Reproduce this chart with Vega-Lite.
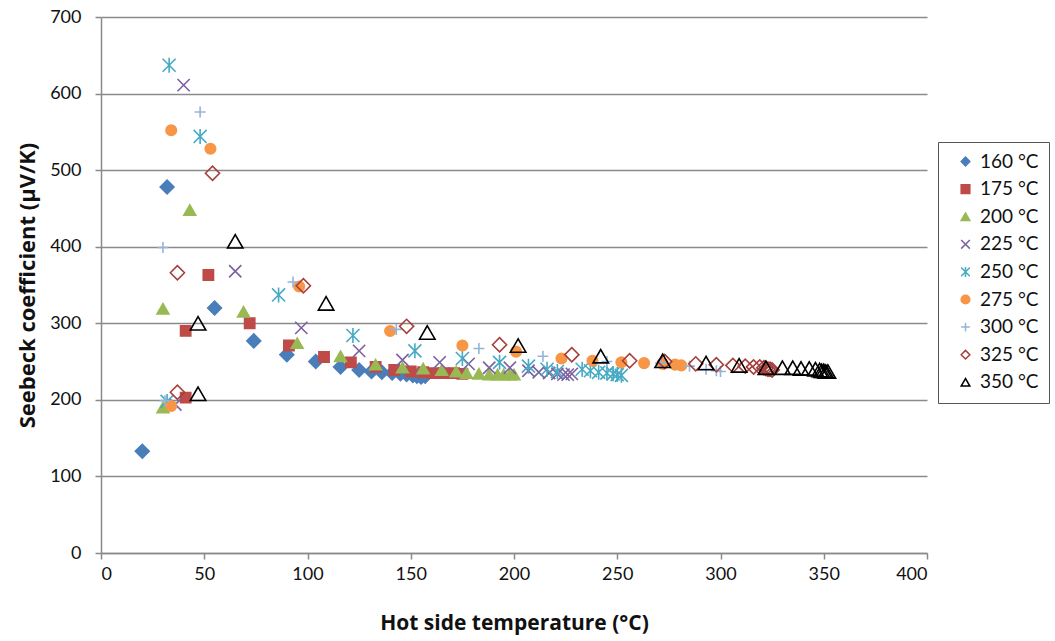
{
  "$schema": "https://vega.github.io/schema/vega-lite/v6.json",
  "autosize": {"type": "none"},
  "padding": {"left": 101, "top": 17, "right": 128, "bottom": 88},
  "width": 826,
  "height": 536,
  "background": "white",
  "config": {
    "view": {"stroke": null},
    "font": "Lato",
    "axis": {
      "labelFont": "Lato", "labelFontSize": 18, "labelColor": "#111",
      "titleFont": "Open Sans", "titleFontSize": 21, "titleFontWeight": "bold", "titleColor": "#111",
      "domainColor": "#8a8a8a", "domainWidth": 1.5,
      "tickColor": "#8a8a8a", "tickWidth": 1.5, "tickSize": 6,
      "gridColor": "#8a8a8a", "gridWidth": 1.5
    }
  },
  "data": {
    "values": [
      {"s": "160 °C", "x": 20, "y": 133}, {"s": "160 °C", "x": 32, "y": 478}, {"s": "160 °C", "x": 55, "y": 320},
      {"s": "160 °C", "x": 74, "y": 277}, {"s": "160 °C", "x": 90, "y": 259}, {"s": "160 °C", "x": 104, "y": 250},
      {"s": "160 °C", "x": 116, "y": 243}, {"s": "160 °C", "x": 125, "y": 239}, {"s": "160 °C", "x": 131, "y": 237},
      {"s": "160 °C", "x": 136, "y": 236}, {"s": "160 °C", "x": 141, "y": 235}, {"s": "160 °C", "x": 145, "y": 234},
      {"s": "160 °C", "x": 148, "y": 233}, {"s": "160 °C", "x": 151, "y": 232}, {"s": "160 °C", "x": 153, "y": 231},
      {"s": "160 °C", "x": 155, "y": 230}, {"s": "160 °C", "x": 157, "y": 231},

      {"s": "175 °C", "x": 41, "y": 203}, {"s": "175 °C", "x": 41, "y": 290}, {"s": "175 °C", "x": 52, "y": 363},
      {"s": "175 °C", "x": 72, "y": 300}, {"s": "175 °C", "x": 91, "y": 271}, {"s": "175 °C", "x": 108, "y": 256},
      {"s": "175 °C", "x": 121, "y": 249}, {"s": "175 °C", "x": 133, "y": 243}, {"s": "175 °C", "x": 142, "y": 239},
      {"s": "175 °C", "x": 150, "y": 237}, {"s": "175 °C", "x": 156, "y": 236}, {"s": "175 °C", "x": 161, "y": 235},
      {"s": "175 °C", "x": 166, "y": 235}, {"s": "175 °C", "x": 171, "y": 235}, {"s": "175 °C", "x": 175, "y": 234},

      {"s": "200 °C", "x": 30, "y": 190}, {"s": "200 °C", "x": 30, "y": 319}, {"s": "200 °C", "x": 43, "y": 448},
      {"s": "200 °C", "x": 69, "y": 315}, {"s": "200 °C", "x": 95, "y": 274}, {"s": "200 °C", "x": 116, "y": 257},
      {"s": "200 °C", "x": 133, "y": 246}, {"s": "200 °C", "x": 146, "y": 242}, {"s": "200 °C", "x": 156, "y": 241},
      {"s": "200 °C", "x": 165, "y": 239}, {"s": "200 °C", "x": 172, "y": 237}, {"s": "200 °C", "x": 177, "y": 235},
      {"s": "200 °C", "x": 183, "y": 234}, {"s": "200 °C", "x": 188, "y": 233}, {"s": "200 °C", "x": 192, "y": 233},
      {"s": "200 °C", "x": 195, "y": 233}, {"s": "200 °C", "x": 198, "y": 233}, {"s": "200 °C", "x": 200, "y": 233},

      {"s": "225 °C", "x": 36, "y": 194}, {"s": "225 °C", "x": 40, "y": 611}, {"s": "225 °C", "x": 65, "y": 368},
      {"s": "225 °C", "x": 97, "y": 294}, {"s": "225 °C", "x": 125, "y": 264}, {"s": "225 °C", "x": 146, "y": 252},
      {"s": "225 °C", "x": 164, "y": 249}, {"s": "225 °C", "x": 178, "y": 247}, {"s": "225 °C", "x": 188, "y": 242},
      {"s": "225 °C", "x": 198, "y": 242}, {"s": "225 °C", "x": 207, "y": 238}, {"s": "225 °C", "x": 212, "y": 236},
      {"s": "225 °C", "x": 217, "y": 235}, {"s": "225 °C", "x": 221, "y": 234}, {"s": "225 °C", "x": 224, "y": 233},
      {"s": "225 °C", "x": 226, "y": 233}, {"s": "225 °C", "x": 228, "y": 234},

      {"s": "250 °C", "x": 32, "y": 198}, {"s": "250 °C", "x": 33, "y": 637}, {"s": "250 °C", "x": 48, "y": 544},
      {"s": "250 °C", "x": 86, "y": 337}, {"s": "250 °C", "x": 122, "y": 284}, {"s": "250 °C", "x": 152, "y": 264},
      {"s": "250 °C", "x": 175, "y": 254}, {"s": "250 °C", "x": 193, "y": 249}, {"s": "250 °C", "x": 207, "y": 244},
      {"s": "250 °C", "x": 216, "y": 240}, {"s": "250 °C", "x": 221, "y": 237}, {"s": "250 °C", "x": 233, "y": 240},
      {"s": "250 °C", "x": 237, "y": 238}, {"s": "250 °C", "x": 241, "y": 236}, {"s": "250 °C", "x": 245, "y": 235},
      {"s": "250 °C", "x": 248, "y": 234}, {"s": "250 °C", "x": 250, "y": 233}, {"s": "250 °C", "x": 252, "y": 232},

      {"s": "275 °C", "x": 34, "y": 192}, {"s": "275 °C", "x": 34, "y": 552}, {"s": "275 °C", "x": 53, "y": 528},
      {"s": "275 °C", "x": 96, "y": 348}, {"s": "275 °C", "x": 140, "y": 290}, {"s": "275 °C", "x": 175, "y": 271},
      {"s": "275 °C", "x": 201, "y": 263}, {"s": "275 °C", "x": 223, "y": 254}, {"s": "275 °C", "x": 238, "y": 251},
      {"s": "275 °C", "x": 252, "y": 249}, {"s": "275 °C", "x": 263, "y": 248}, {"s": "275 °C", "x": 272, "y": 247},
      {"s": "275 °C", "x": 278, "y": 246}, {"s": "275 °C", "x": 281, "y": 245},

      {"s": "300 °C", "x": 31, "y": 199}, {"s": "300 °C", "x": 30, "y": 399}, {"s": "300 °C", "x": 48, "y": 576},
      {"s": "300 °C", "x": 93, "y": 354}, {"s": "300 °C", "x": 143, "y": 292}, {"s": "300 °C", "x": 183, "y": 267},
      {"s": "300 °C", "x": 214, "y": 257}, {"s": "300 °C", "x": 245, "y": 250}, {"s": "300 °C", "x": 271, "y": 248},
      {"s": "300 °C", "x": 285, "y": 244}, {"s": "300 °C", "x": 293, "y": 240}, {"s": "300 °C", "x": 298, "y": 238},
      {"s": "300 °C", "x": 300, "y": 237},

      {"s": "325 °C", "x": 37, "y": 210}, {"s": "325 °C", "x": 37, "y": 366}, {"s": "325 °C", "x": 54, "y": 496},
      {"s": "325 °C", "x": 98, "y": 349}, {"s": "325 °C", "x": 148, "y": 296}, {"s": "325 °C", "x": 193, "y": 272},
      {"s": "325 °C", "x": 228, "y": 259}, {"s": "325 °C", "x": 256, "y": 251}, {"s": "325 °C", "x": 273, "y": 250},
      {"s": "325 °C", "x": 288, "y": 247}, {"s": "325 °C", "x": 298, "y": 246}, {"s": "325 °C", "x": 306, "y": 245},
      {"s": "325 °C", "x": 312, "y": 244}, {"s": "325 °C", "x": 316, "y": 243}, {"s": "325 °C", "x": 319, "y": 243},
      {"s": "325 °C", "x": 321, "y": 242}, {"s": "325 °C", "x": 322, "y": 241}, {"s": "325 °C", "x": 323, "y": 240},
      {"s": "325 °C", "x": 324, "y": 240}, {"s": "325 °C", "x": 325, "y": 239},

      {"s": "350 °C", "x": 47, "y": 208}, {"s": "350 °C", "x": 47, "y": 300}, {"s": "350 °C", "x": 65, "y": 407},
      {"s": "350 °C", "x": 109, "y": 326}, {"s": "350 °C", "x": 158, "y": 288}, {"s": "350 °C", "x": 202, "y": 271},
      {"s": "350 °C", "x": 242, "y": 257}, {"s": "350 °C", "x": 272, "y": 251}, {"s": "350 °C", "x": 293, "y": 248},
      {"s": "350 °C", "x": 309, "y": 245}, {"s": "350 °C", "x": 322, "y": 242}, {"s": "350 °C", "x": 330, "y": 242},
      {"s": "350 °C", "x": 335, "y": 242}, {"s": "350 °C", "x": 339, "y": 241}, {"s": "350 °C", "x": 343, "y": 241},
      {"s": "350 °C", "x": 346, "y": 240}, {"s": "350 °C", "x": 348, "y": 239}, {"s": "350 °C", "x": 349, "y": 238},
      {"s": "350 °C", "x": 350, "y": 238}, {"s": "350 °C", "x": 351, "y": 237}, {"s": "350 °C", "x": 352, "y": 237}
    ]
  },
  "mark": {"type": "point", "opacity": 1, "strokeWidth": 1.6},
  "encoding": {
    "x": {
      "field": "x", "type": "quantitative",
      "scale": {"domain": [0, 400], "nice": false},
      "axis": {"values": [0, 50, 100, 150, 200, 250, 300, 350, 400], "grid": false, "title": "Hot side temperature (°C)", "labelPadding": 6, "titlePadding": 29}
    },
    "y": {
      "field": "y", "type": "quantitative",
      "scale": {"domain": [0, 700], "nice": false},
      "axis": {"values": [0, 100, 200, 300, 400, 500, 600, 700], "grid": true, "title": "Seebeck coefficient (µV/K)", "titleFontSize": 22, "labelPadding": 14, "titlePadding": 10}
    },
    "shape": {
      "field": "s", "type": "nominal",
      "scale": {
        "domain": ["160 °C", "175 °C", "200 °C", "225 °C", "250 °C", "275 °C", "300 °C", "325 °C", "350 °C"],
        "range": ["diamond", "square", "triangle-up", "M-1,-1L1,1M-1,1L1,-1", "M-1,-1L1,1M-1,1L1,-1M0,-1.15L0,1.15", "circle", "M-1,0L1,0M0,-1L0,1", "diamond", "triangle-up"]
      },
      "legend": {
        "title": null, "orient": "none", "legendX": 837, "legendY": 125,
        "strokeColor": "#555", "padding": 10, "labelFont": "Lato", "labelFontSize": 19, "labelColor": "#111",
        "symbolSize": 75, "symbolStrokeWidth": 1.5, "rowPadding": 7.6, "labelOffset": 5, "symbolOffset": 8
      }
    },
    "fill": {
      "field": "s", "type": "nominal",
      "scale": {
        "domain": ["160 °C", "175 °C", "200 °C", "225 °C", "250 °C", "275 °C", "300 °C", "325 °C", "350 °C"],
        "range": ["#4A7EBB", "#BE4B48", "#98B954", "transparent", "transparent", "#F79646", "transparent", "transparent", "transparent"]
      }
    },
    "stroke": {
      "field": "s", "type": "nominal",
      "scale": {
        "domain": ["160 °C", "175 °C", "200 °C", "225 °C", "250 °C", "275 °C", "300 °C", "325 °C", "350 °C"],
        "range": ["#4A7EBB", "#BE4B48", "#98B954", "#7D60A0", "#46AAC5", "#F79646", "#95B3D7", "#A5403D", "#000000"]
      }
    },
    "size": {
      "field": "s", "type": "nominal",
      "scale": {
        "type": "ordinal",
        "domain": ["350 °C", "325 °C", "300 °C", "275 °C", "250 °C", "225 °C", "200 °C", "175 °C", "160 °C"],
        "range": [240, 200, 120, 110, 170, 150, 140, 105, 190]
      },
      "legend": null
    }
  }
}
